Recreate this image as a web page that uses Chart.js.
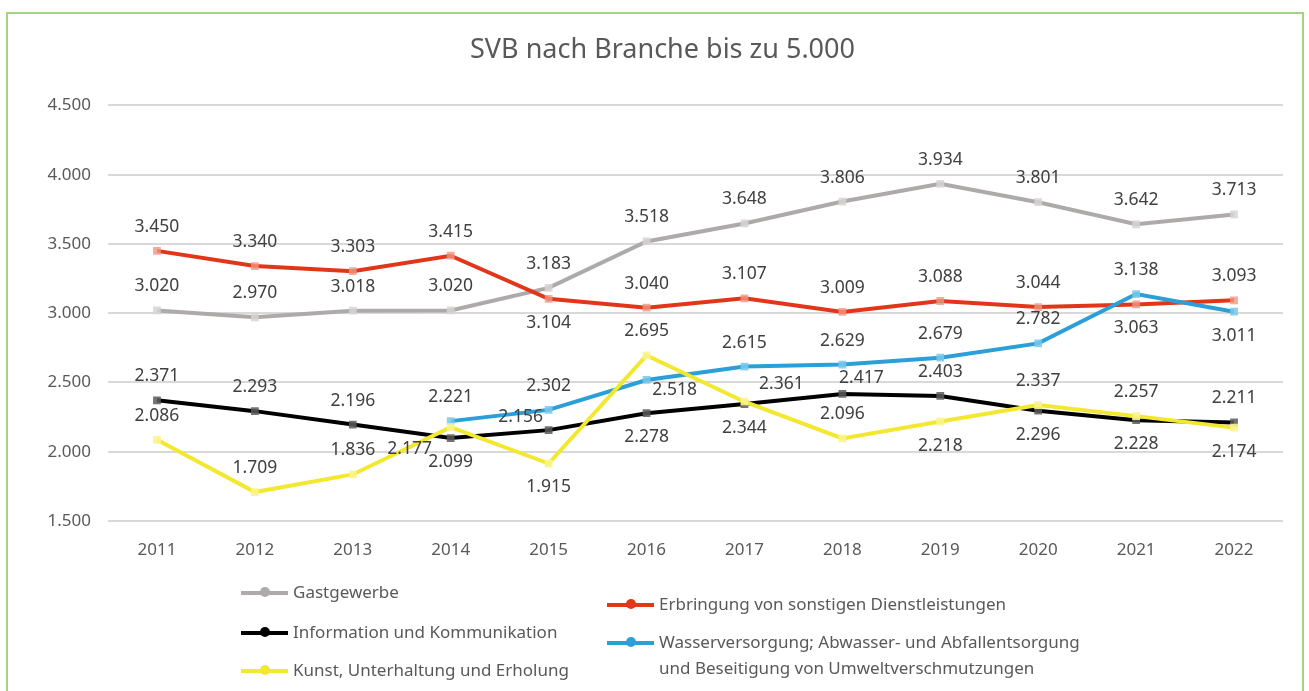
<!DOCTYPE html>
<html lang="de">
<head>
  <meta charset="UTF-8">
  <title>SVB nach Branche bis zu 5.000</title>
  <script src="https://cdn.jsdelivr.net/npm/chart.js"></script>
  <style>
    html, body {
      margin: 0;
      padding: 0;
      background: #ffffff;
      overflow: hidden;
    }
    #frame {
      position: absolute;
      left: 6px;
      top: 12px;
      width: 1294px;
      height: 720px;
      border: 2px solid #a6d37f;
      pointer-events: none;
    }
    #chart {
      position: absolute;
      left: 0;
      top: 0;
    }
  </style>
</head>
<body>
  <canvas id="chart" width="1309" height="691"></canvas>
  <div id="frame"></div>

  <script>
    const years = ['2011', '2012', '2013', '2014', '2015', '2016', '2017', '2018', '2019', '2020', '2021', '2022'];

    const gastgewerbe = [3020, 2970, 3018, 3020, 3183, 3518, 3648, 3806, 3934, 3801, 3642, 3713];
    const dienstleistungen = [3450, 3340, 3303, 3415, 3104, 3040, 3107, 3009, 3088, 3044, 3063, 3093];
    const kommunikation = [2371, 2293, 2196, 2099, 2156, 2278, 2344, 2417, 2403, 2296, 2228, 2211];
    const wasser = [null, null, null, 2221, 2302, 2518, 2615, 2629, 2679, 2782, 3138, 3011];
    const kunst = [2086, 1709, 1836, 2177, 1915, 2695, 2361, 2096, 2218, 2337, 2257, 2174];

    const yTicks = [1500, 2000, 2500, 3000, 3500, 4000, 4500];

    // where each data label sits relative to its point
    const labelPos = {
      gast: ['t', 't', 't', 't', 't', 't', 't', 't', 't', 't', 't', 't'],
      dienst: ['t', 't', 't', 't', 'b', 't', 't', 't', 't', 't', 'b', 't'],
      komm: ['t', 't', 't', 'b', 'l', 'b', 'b', 'tr2', 't', 'b', 'b', 't'],
      wasser: ['t', 't', 't', 't', 't', 'r', 't', 't', 't', 't', 't', 'b'],
      kunst: ['t', 't', 't', 'bl', 'b', 't', 'tr', 't', 'b', 't', 't', 'b']
    };
    const offsets = {
      t: [0, -24], b: [0, 24], l: [-28, -13], bl: [-41, 22],
      r: [28, 10], tr: [37, -18], tr2: [19, -16]
    };

    function fmt(v) {
      return String(v).replace(/\B(?=(\d{3})+(?!\d))/g, '.');
    }

    const FONT = "'Noto Sans', sans-serif";

    function series(label, data, color, marker, order, posKey) {
      return {
        label: label,
        data: data,
        borderColor: color,
        backgroundColor: marker,
        borderWidth: 4,
        pointStyle: 'rect',
        pointRadius: 5.5,
        pointBorderWidth: 0,
        pointBackgroundColor: marker,
        tension: 0,
        spanGaps: false,
        order: order,
        posKey: posKey
      };
    }

    const dataLabels = {
      id: 'dataLabels',
      afterDatasetsDraw(chart) {
        const ctx = chart.ctx;
        ctx.save();
        ctx.font = '17.5px ' + FONT;
        ctx.fillStyle = '#404040';
        ctx.textAlign = 'center';
        ctx.textBaseline = 'middle';
        chart.data.datasets.forEach((ds, di) => {
          const meta = chart.getDatasetMeta(di);
          ds.data.forEach((v, i) => {
            if (v === null) return;
            const pt = meta.data[i];
            const off = offsets[labelPos[ds.posKey][i]];
            ctx.fillText(fmt(v), pt.x + off[0], pt.y + off[1]);
          });
        });
        ctx.restore();
      }
    };

    // two-column legend like the original
    const legendSlots = [
      { x: 241, y: 593 },
      { x: 607, y: 605 },
      { x: 241, y: 633 },
      { x: 607, y: 643 },
      { x: 241, y: 671 }
    ];
    const sideLegend = {
      id: 'sideLegend',
      afterDraw(chart) {
        const ctx = chart.ctx;
        ctx.save();
        ctx.font = '17px ' + FONT;
        ctx.textBaseline = 'middle';
        ctx.textAlign = 'left';
        chart.data.datasets.forEach((ds, i) => {
          const s = legendSlots[i];
          ctx.strokeStyle = ds.borderColor;
          ctx.lineWidth = 4;
          ctx.beginPath();
          ctx.moveTo(s.x, s.y);
          ctx.lineTo(s.x + 47, s.y);
          ctx.stroke();
          ctx.fillStyle = ds.borderColor;
          ctx.beginPath();
          ctx.arc(s.x + 24, s.y - 1, 5, 0, Math.PI * 2);
          ctx.fill();
          ctx.fillStyle = '#595959';
          const lines = ds.label.split('\n');
          lines.forEach((ln, k) => ctx.fillText(ln, s.x + 52, s.y + k * 26));
        });
        ctx.restore();
      }
    };

    new Chart(document.getElementById('chart'), {
      type: 'line',
      data: {
        labels: years,
        datasets: [
          series('Gastgewerbe', gastgewerbe, '#aeaaaa', 'rgba(215,212,212,0.85)', 5, 'gast'),
          series('Erbringung von sonstigen Dienstleistungen', dienstleistungen, '#e2361a', 'rgba(240,150,130,0.8)', 4, 'dienst'),
          series('Information und Kommunikation', kommunikation, '#000000', 'rgba(90,90,90,0.85)', 3, 'komm'),
          series('Wasserversorgung; Abwasser- und Abfallentsorgung\nund Beseitigung von Umweltverschmutzungen', wasser, '#2a9fd8', 'rgba(120,200,235,0.85)', 2, 'wasser'),
          series('Kunst, Unterhaltung und Erholung', kunst, '#f2e830', 'rgba(250,245,140,0.9)', 1, 'kunst')
        ]
      },
      options: {
        responsive: false,
        animation: false,
        layout: { padding: { left: 42, right: 26, top: 0, bottom: 120 } },
        plugins: {
          legend: { display: false },
          tooltip: { enabled: false },
          title: {
            display: true,
            text: 'SVB nach Branche bis zu 5.000',
            color: '#595959',
            font: { family: FONT, size: 27, weight: 'normal' },
            padding: { top: 34, bottom: 39 }
          }
        },
        scales: {
          x: {
            offset: true,
            grid: { display: false, drawTicks: false },
            border: { display: false },
            ticks: {
              color: '#595959',
              padding: 19,
              font: { family: FONT, size: 17 }
            },
            afterFit(scale) { scale.height = 50; }
          },
          y: {
            min: 1500,
            max: 4500,
            afterBuildTicks(scale) {
              scale.ticks = yTicks.map(v => ({ value: v }));
            },
            grid: { color: '#d9d9d9', lineWidth: 2, drawTicks: false },
            border: { display: false },
            ticks: {
              color: '#595959',
              padding: 17,
              font: { family: FONT, size: 17 },
              callback: v => fmt(v)
            },
            afterFit(scale) { scale.width = 66; }
          }
        }
      },
      plugins: [dataLabels, sideLegend]
    });
  </script>
</body>
</html>
